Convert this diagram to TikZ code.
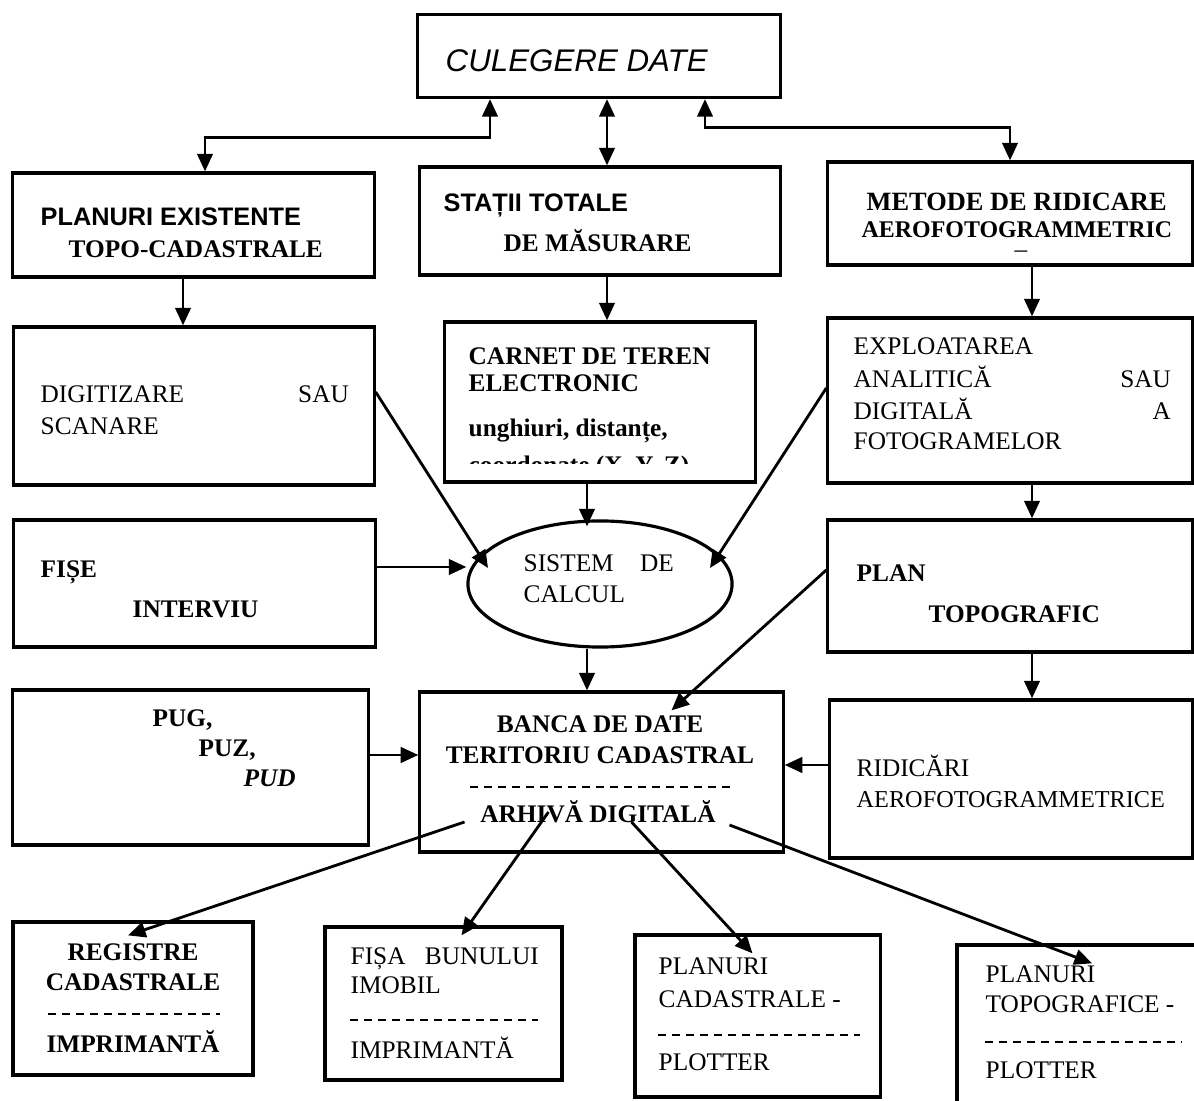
\documentclass[tikz,border=0pt]{standalone}
\usepackage{fontspec}
\setmainfont{Liberation Serif}
\setsansfont{Liberation Sans}
\usetikzlibrary{arrows.meta,shapes.geometric,calc}

\begin{document}
\begin{tikzpicture}[x=0.01cm,y=-0.01cm,
  box/.style={draw,line width=0.9pt,inner sep=0pt},
  ell/.style={draw,ellipse,line width=0.9pt,inner sep=0pt},
  txt/.style={inner sep=0pt,anchor=base west,font=\fontsize{7.2}{8.6}\selectfont},
  txtb/.style={txt,font=\fontsize{7.2}{8.6}\selectfont\bfseries},
  sansb/.style={txt,font=\fontsize{7.2}{8.6}\selectfont\sffamily\bfseries},
  arr/.style={line width=0.8pt,-{Triangle[length=5pt,width=4.4pt]}},
  dbl/.style={line width=0.8pt,{Triangle[length=5pt,width=4.4pt]}-{Triangle[length=5pt,width=4.4pt]}},
  sep/.style={line width=0.85pt,dash pattern=on 0.08cm off 0.06cm}]
\useasboundingbox (0,0) rectangle (1194,1101);

% CULEGERE DATE
  \node[box,minimum width=3.62cm,minimum height=0.83cm] (cul) at (599,56) {};
  \node[txt,font=\fontsize{8.9}{10}\selectfont\sffamily\itshape] (culT) at (445,72) {CULEGERE DATE};

% first row
  \node[box,minimum width=3.61cm,minimum height=1.04cm] (pex) at (193.5,225) {};
  \node[sansb] (pexA) at (40,226) {PLANURI EXISTENTE};
  \node[txtb] (pexB) at (68,258) {TOPO-CADASTRALE};

  \node[box,minimum width=3.60cm,minimum height=1.08cm] (sta) at (600,221) {};
  \node[sansb] (staA) at (443,212) {STAȚII TOTALE};
  \node[txtb] (staB) at (503,252) {DE MĂSURARE};

  \node[box,minimum width=3.64cm,minimum height=1.03cm] (met) at (1010,213.5) {};
  \node[txtb,font=\fontsize{7.5}{9}\selectfont\bfseries] (metA) at (866,211) {METODE DE RIDICARE};
  \node[txtb,font=\fontsize{6.8}{8}\selectfont\bfseries] (metB) at (861,238) {AEROFOTOGRAMMETRIC};
  \node[txt] (metC) at (1014,258) {–};

% second row
  \node[box,minimum width=3.60cm,minimum height=1.58cm] (dig) at (194,406) {};
  \node[txt,text width=3.08cm] (digA) at (40,403) {\noindent DIGITIZARE\hfill SAU};
  \node[txt] (digB) at (40,435) {SCANARE};

  \node[box,minimum width=3.10cm,minimum height=1.60cm] (car) at (600,402) {};
  \node[txtb] (carA) at (468,365) {CARNET DE TEREN};
  \node[txtb] (carB) at (468,392) {ELECTRONIC};
  \node[txtb] (carC) at (468,437) {unghiuri, distanțe,};
  \begin{scope}
    \clip (450,440) rectangle (750,464);
    \node[txtb] (carD) at (468,474) {coordonate (X, Y, Z)};
  \end{scope}

  \node[box,minimum width=3.64cm,minimum height=1.65cm] (exp) at (1010,400.5) {};
  \node[txt] (expA) at (853,355) {EXPLOATAREA};
  \node[txt,text width=3.17cm] (expB) at (853,388) {\noindent ANALITICĂ\hfill SAU};
  \node[txt,text width=3.17cm] (expC) at (853,420) {\noindent DIGITALĂ\hfill A};
  \node[txt] (expD) at (853,450) {FOTOGRAMELOR};

% third row
  \node[box,minimum width=3.61cm,minimum height=1.27cm] (fis) at (194.5,583.5) {};
  \node[txtb] (fisA) at (40,578) {FIȘE};
  \node[txtb] (fisB) at (132,618) {INTERVIU};

  \node[ell,minimum width=2.64cm,minimum height=1.26cm] (sis) at (600,584) {};
  \node[txt,text width=1.50cm] (sisA) at (523,572) {\noindent SISTEM\hfill DE};
  \node[txt] (sisB) at (523,603) {CALCUL};

  \node[box,minimum width=3.64cm,minimum height=1.32cm] (pla) at (1010,586) {};
  \node[txtb] (plaA) at (856,582) {PLAN};
  \node[txtb] (plaB) at (928,623) {TOPOGRAFIC};

% fourth row
  \node[box,minimum width=3.55cm,minimum height=1.55cm] (pug) at (190.5,767.5) {};
  \node[txtb] (pugA) at (152,727) {PUG,};
  \node[txtb] (pugB) at (198,757) {PUZ,};
  \node[txtb] (pugC) at (243,787) {\textit{PUD}};

  \node[box,minimum width=3.63cm,minimum height=1.60cm] (ban) at (601.5,772) {};
  \node[txtb,anchor=base] (banA) at (600,733) {BANCA DE DATE};
  \node[txtb,anchor=base] (banB) at (600,764) {TERITORIU CADASTRAL};
  \draw[sep] (470,787) -- (732,787);
  \node[txtb,anchor=base] (banC) at (598,823) {ARHIVĂ DIGITALĂ};

  \node[box,minimum width=3.62cm,minimum height=1.58cm] (rid) at (1011,779) {};
  \node[txt] (ridA) at (856,777) {RIDICĂRI};
  \node[txt,font=\fontsize{6.9}{8}\selectfont] (ridB) at (856,808) {AEROFOTOGRAMMETRICE};

% outputs
  \node[box,minimum width=2.40cm,minimum height=1.53cm] (reg) at (133,998.5) {};
  \node[txtb,anchor=base] (regA) at (133,960) {REGISTRE};
  \node[txtb,anchor=base] (regB) at (133,990) {CADASTRALE};
  \draw[sep] (48,1014) -- (220,1014);
  \node[txtb,anchor=base] (regC) at (133,1052) {IMPRIMANTĂ};

  \node[box,minimum width=2.37cm,minimum height=1.53cm] (fib) at (443.5,1003.5) {};
  \node[txt,text width=1.88cm] (fibA) at (350,965) {\noindent FIȘA\hfill BUNULUI};
  \node[txt] (fibB) at (350,993) {IMOBIL};
  \draw[sep] (350,1020) -- (538,1020);
  \node[txt] (fibC) at (350,1058) {IMPRIMANTĂ};

  \node[box,minimum width=2.45cm,minimum height=1.62cm] (plc) at (757.5,1016) {};
  \node[txt] (plcA) at (658,975) {PLANURI};
  \node[txt] (plcB) at (658,1007) {CADASTRALE -};
  \draw[sep] (658,1035) -- (860,1035);
  \node[txt] (plcC) at (658,1070) {PLOTTER};

  \node[box,minimum width=2.48cm,minimum height=1.65cm] (plt) at (1081,1027.5) {};
  \node[txt] (pltA) at (985,982) {PLANURI};
  \node[txt] (pltB) at (985,1012) {TOPOGRAFICE -};
  \draw[sep] (985,1042) -- (1182,1042);
  \node[txt] (pltC) at (985,1078) {PLOTTER};

% connectors
  \draw[dbl] (cul.south -| 490,0) -- ++(0,38) -| (pex.north -| 205,0);
  \draw[dbl] (cul.south -| 607,0) -- (sta.north -| 607,0);
  \draw[dbl] (cul.south -| 705,0) -- ++(0,28) -| (met.north);

  \draw[arr] (pex.south -| 183,0) -- (dig.north -| 183,0);
  \draw[arr] (sta.south -| 607,0) -- (car.north -| 607,0);
  \draw[arr] (met.south -| 1032,0) -- (exp.north -| 1032,0);

  \draw[arr] (dig.east |- 0,392) -- ($(sis.center)+(-112,-16)$);
  \draw[arr] (car.south -| 587,0) -- ($(sis.north)+(-13,7)$);
  \draw[arr] (exp.west |- 0,388) -- ($(sis.center)+(110,-16)$);
  \draw[arr] (fis.east |- 0,567) -- (sis.west |- 0,567);
  \draw[arr] ($(sis.south)+(-13,0)$) -- (ban.north -| 587,0);

  \draw[arr] (exp.south -| 1032,0) -- (pla.north -| 1032,0);
  \draw[arr] (pla.west |- 0,570) -- ($(ban.north)+(70,20)$);
  \draw[arr] (pla.south -| 1032,0) -- (rid.north -| 1032,0);
  \draw[arr] (rid.west |- 0,765) -- (ban.east |- 0,765);
  \draw[arr] (pug.east |- 0,755) -- (ban.west |- 0,755);

  \draw[arr] ($(ban.center)+(-137,50)$) -- ($(reg.north)+(-5,15)$);
  \draw[arr] ($(ban.center)+(-53,40)$) -- ($(fib.north)+(18,10)$);
  \draw[arr] ($(ban.center)+(30,50)$) -- ($(plc.north)+(-5,20)$);
  \draw[arr] ($(ban.center)+(128,53)$) -- ($(plt.north)+(11,20)$);
\end{tikzpicture}
\end{document}
